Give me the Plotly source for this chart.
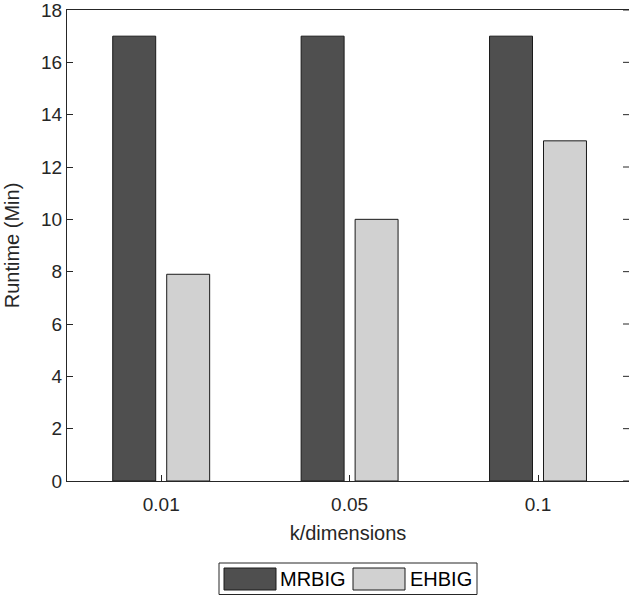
import plotly.graph_objects as go

categories = ["0.01", "0.05", "0.1"]
mrbig = [17, 17, 17]
ehbig = [7.9, 10, 13]
series_names = ["MRBIG", "EHBIG"]
y_ticks = [0, 2, 4, 6, 8, 10, 12, 14, 16, 18]

W, H = 629, 596
L, R, T, B = 67, 629, 10, 481  # plot area in pixels

DARK = "#4f4f4f"
LIGHT = "#d1d1d1"
EDGE = "#1a1a1a"
AX = "#262626"
FONT = "Liberation Sans, Arial, sans-serif"

def px2x(px):
    return (px - L) / (R - L)

def py2y(py):
    return (B - py) / (B - T)

fig = go.Figure()
fig.add_trace(go.Bar(x=categories, y=mrbig, name=series_names[0],
                     marker=dict(color=DARK, line=dict(color=EDGE, width=1)),
                     showlegend=False))
fig.add_trace(go.Bar(x=categories, y=ehbig, name=series_names[1],
                     marker=dict(color=LIGHT, line=dict(color=EDGE, width=1)),
                     showlegend=False))

# custom legend (box, swatches, labels)
shapes = [
    dict(type="rect", xref="paper", yref="paper", x0=px2x(219), x1=px2x(477),
         y0=py2y(594.5), y1=py2y(563), line=dict(color=AX, width=1),
         fillcolor="white"),
    dict(type="rect", xref="paper", yref="paper", x0=px2x(224), x1=px2x(276),
         y0=py2y(590), y1=py2y(568), line=dict(color=EDGE, width=1),
         fillcolor=DARK),
    dict(type="rect", xref="paper", yref="paper", x0=px2x(353), x1=px2x(405),
         y0=py2y(590), y1=py2y(568), line=dict(color=EDGE, width=1),
         fillcolor=LIGHT),
]
# right-side inward ticks (MATLAB box style), drawn in paper x / data y
for v in y_ticks:
    shapes.append(dict(type="line", xref="paper", yref="y", x0=1 - 6 / (R - L), x1=1,
                       y0=v, y1=v, line=dict(color=AX, width=1)))

annotations = [
    dict(text=series_names[0], xref="paper", yref="paper", x=px2x(278), y=py2y(579),
         xanchor="left", yanchor="middle", showarrow=False,
         font=dict(family=FONT, size=20, color="black")),
    dict(text=series_names[1], xref="paper", yref="paper", x=px2x(408), y=py2y(579),
         xanchor="left", yanchor="middle", showarrow=False,
         font=dict(family=FONT, size=20, color="black")),
]

fig.update_layout(
    width=W, height=H,
    margin=dict(l=L, r=W - R, t=T, b=H - B, pad=0, autoexpand=False),
    paper_bgcolor="white", plot_bgcolor="white",
    barmode="group", bargap=0.427, bargroupgap=0.204,
    font=dict(family=FONT, size=19, color=AX),
    shapes=shapes, annotations=annotations,
    xaxis=dict(
        type="category", range=[-0.5, 2.483], automargin=False,
        showline=True, linecolor=AX, linewidth=1, mirror=True,
        ticks="inside", ticklen=6, tickcolor=AX, ticklabelstandoff=6,
        showgrid=False, zeroline=False,
        tickfont=dict(family=FONT, size=19, color=AX),
        title=dict(text="k/dimensions", font=dict(family=FONT, size=20, color=AX), standoff=12),
    ),
    yaxis=dict(
        range=[0, 18], tickmode="array", tickvals=y_ticks,
        ticktext=[str(v) for v in y_ticks], automargin=False,
        ticklabeloverflow="allow",
        showline=True, linecolor=AX, linewidth=1, mirror=False,
        ticks="inside", ticklen=6, tickcolor=AX,
        showgrid=False, zeroline=False,
        tickfont=dict(family=FONT, size=19, color=AX),
        title=dict(text="Runtime (Min)", font=dict(family=FONT, size=20, color=AX), standoff=16),
    ),
)

fig.write_html("out.html", config={"displayModeBar": False},
               post_script="document.body.style.margin='0px';")
